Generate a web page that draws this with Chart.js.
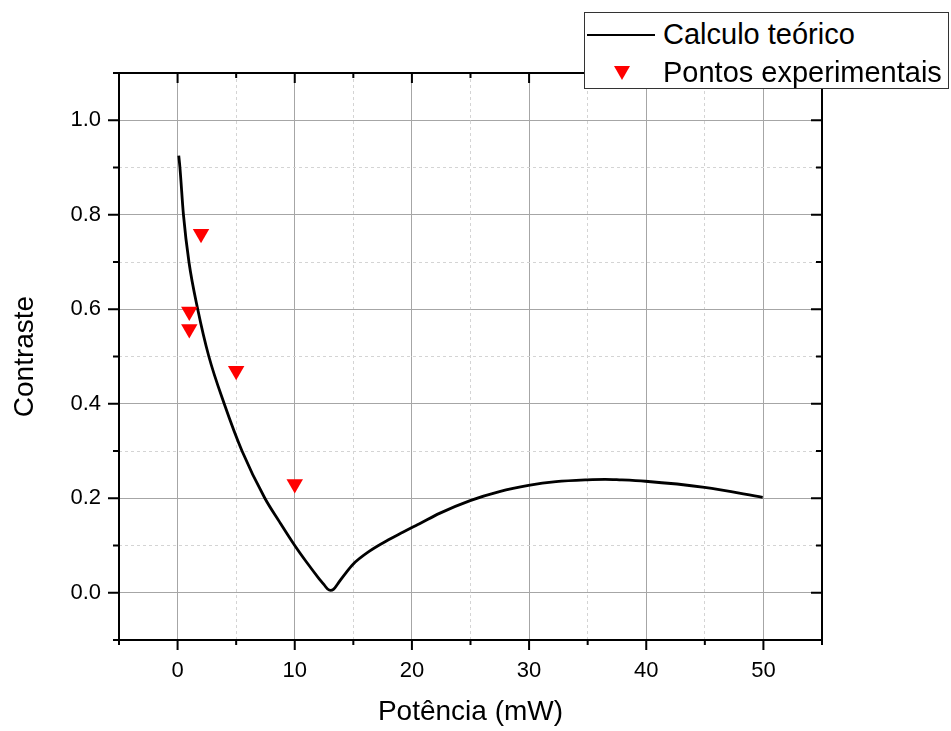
<!DOCTYPE html>
<html>
<head>
<meta charset="utf-8">
<script src="https://cdn.jsdelivr.net/npm/chart.js@4"></script>
<style>
  body { margin: 0; background: #fff; }
  #wrap { position: relative; width: 951px; height: 731px; }
  #legend {
    position: absolute; left: 584px; top: 12px; width: 363px; height: 75px;
    border: 1px solid #333; background: #fff;
    font-family: 'Liberation Sans', Arial, sans-serif; font-size: 29px; color: #000;
  }
  .row { position: absolute; left: 0; height: 38px; line-height: 38px; white-space: nowrap; }
  .row span.txt { position: absolute; left: 78px; top: 0; }
  .sym-line { position: absolute; left: 2px; top: 19px; width: 68px; height: 2px; background: #000; }
  .sym-tri { position: absolute; left: 29px; top: 13px; width: 0; height: 0;
    border-left: 8px solid transparent; border-right: 8px solid transparent; border-top: 14px solid #ff0000; }
</style>
</head>
<body>
<div id="wrap">
  <canvas id="myChart" width="951" height="731"></canvas>
  <div id="legend"></div>
</div>
<script>
// curve (calculo teorico)
let curveX = [0.1, 0.2, 0.5, 0.97, 1.72, 2.67, 3.98, 5.5, 7.45, 8.7, 10, 11, 12.1, 12.5, 12.8, 13.05, 13.3, 13.7, 14.3, 14.96, 16.38, 18.0, 19.22, 20.0, 20.65, 22.35, 24.97, 27.47, 29.95, 32.3, 34.96, 36.5, 37.7, 39.93, 44.97, 49.94];
let curveY = [0.925, 0.9, 0.8, 0.7, 0.6, 0.5, 0.4, 0.3, 0.2, 0.15, 0.1, 0.065, 0.029, 0.017, 0.008, 0.005, 0.007, 0.02, 0.04, 0.06, 0.088, 0.112, 0.128, 0.138, 0.146, 0.168, 0.195, 0.214, 0.227, 0.235, 0.239, 0.240, 0.239, 0.236, 0.223, 0.202];

// experimental points
let expX = [1, 1, 2, 5, 10];
let expY = [0.595, 0.558, 0.76, 0.47, 0.23];

let labels = ['Calculo teórico', 'Pontos experimentais'];

const fontFam = "'Liberation Sans', Arial, sans-serif";

function majorX(v) { return Math.round(v) % 10 === 0 && v >= 0 && v <= 50; }
function majorY(v) { return Math.round(v * 10) % 2 === 0; }

// frame + tick marks (outside on left/bottom, inside on top/right)
const frameTicks = {
  id: 'frameTicks',
  afterDraw(chart) {
    const {ctx, chartArea: a, scales} = chart;
    const x = scales.x, y = scales.y;
    ctx.save();
    ctx.strokeStyle = '#000';
    ctx.lineWidth = 2;
    ctx.strokeRect(a.left, a.top, a.right - a.left, a.bottom - a.top);
    ctx.beginPath();
    x.ticks.forEach(t => {
      const px = x.getPixelForValue(t.value);
      const len = majorX(t.value) ? 10 : 5;
      ctx.moveTo(px, a.bottom); ctx.lineTo(px, a.bottom + len);
      ctx.moveTo(px, a.top); ctx.lineTo(px, a.top + len);
    });
    y.ticks.forEach(t => {
      const py = y.getPixelForValue(t.value);
      const len = majorY(t.value) ? 11 : 6;
      ctx.moveTo(a.left, py); ctx.lineTo(a.left - len, py);
      ctx.moveTo(a.right, py); ctx.lineTo(a.right - len, py);
    });
    ctx.stroke();
    ctx.restore();
  }
};

let curve = curveX.map((v, i) => ({x: v, y: curveY[i]}));
let pts = expX.map((v, i) => ({x: v, y: expY[i]}));

let myChart = document.getElementById('myChart').getContext('2d');
let chart = new Chart(myChart, {
  type: 'scatter',
  data: {
    datasets: [{
      label: labels[0],
      data: curve,
      showLine: true,
      borderColor: '#000',
      borderWidth: 2.8,
      pointRadius: 0,
      cubicInterpolationMode: 'monotone',
      order: 2
    },
    {
      label: labels[1],
      data: pts,
      pointStyle: 'triangle',
      rotation: 180,
      pointRadius: 9.5,
      pointHoverRadius: 9.5,
      backgroundColor: '#ff0000',
      borderColor: '#ff0000',
      borderWidth: 0,
      order: 1
    }]
  },
  options: {
    responsive: false,
    animation: false,
    layout: { padding: { top: 73, right: 129, left: 0, bottom: 0 } },
    plugins: { legend: { display: false }, tooltip: { enabled: false } },
    scales: {
      x: {
        type: 'linear',
        min: -5, max: 55,
        afterFit: s => { s.height = 91; },
        ticks: {
          stepSize: 5,
          padding: 18,
          color: '#000',
          font: { family: fontFam, size: 22 },
          maxRotation: 0,
          autoSkip: false,
          callback: v => majorX(v) ? String(Math.round(v)) : ''
        },
        grid: {
          drawTicks: false,
          color: c => majorX(c.tick.value) ? '#a6a6a6' : '#d4d4d4',
          lineWidth: 1
        },
        border: { display: false, dash: c => majorX(c.tick.value) ? [] : [3, 3] },
        title: {
          display: true, text: 'Potência (mW)', color: '#000',
          font: { family: fontFam, size: 28 }, padding: { top: 0, bottom: 2 }
        }
      },
      y: {
        min: -0.1, max: 1.1,
        afterFit: s => { s.width = 119; },
        ticks: {
          stepSize: 0.1,
          padding: 18,
          color: '#000',
          font: { family: fontFam, size: 22 },
          autoSkip: false,
          callback: v => majorY(v) ? v.toFixed(1) : ''
        },
        grid: {
          drawTicks: false,
          color: c => majorY(c.tick.value) ? '#a6a6a6' : '#d4d4d4',
          lineWidth: 1
        },
        border: { display: false, dash: c => majorY(c.tick.value) ? [] : [3, 3] },
        title: {
          display: true, text: 'Contraste', color: '#000',
          font: { family: fontFam, size: 28 }, padding: { top: 8, bottom: 0 }
        }
      }
    }
  },
  plugins: [frameTicks]
});

// legend box drawn over the top-right corner like the original
let legend = document.getElementById('legend');
chart.data.datasets.forEach((ds, i) => {
  let row = document.createElement('div');
  row.className = 'row';
  row.style.top = (2 + i * 38) + 'px';
  row.style.width = '100%';
  let sym = document.createElement('div');
  sym.className = i === 0 ? 'sym-line' : 'sym-tri';
  let txt = document.createElement('span');
  txt.className = 'txt';
  txt.textContent = ds.label;
  row.appendChild(sym);
  row.appendChild(txt);
  legend.appendChild(row);
});
</script>
</body>
</html>
